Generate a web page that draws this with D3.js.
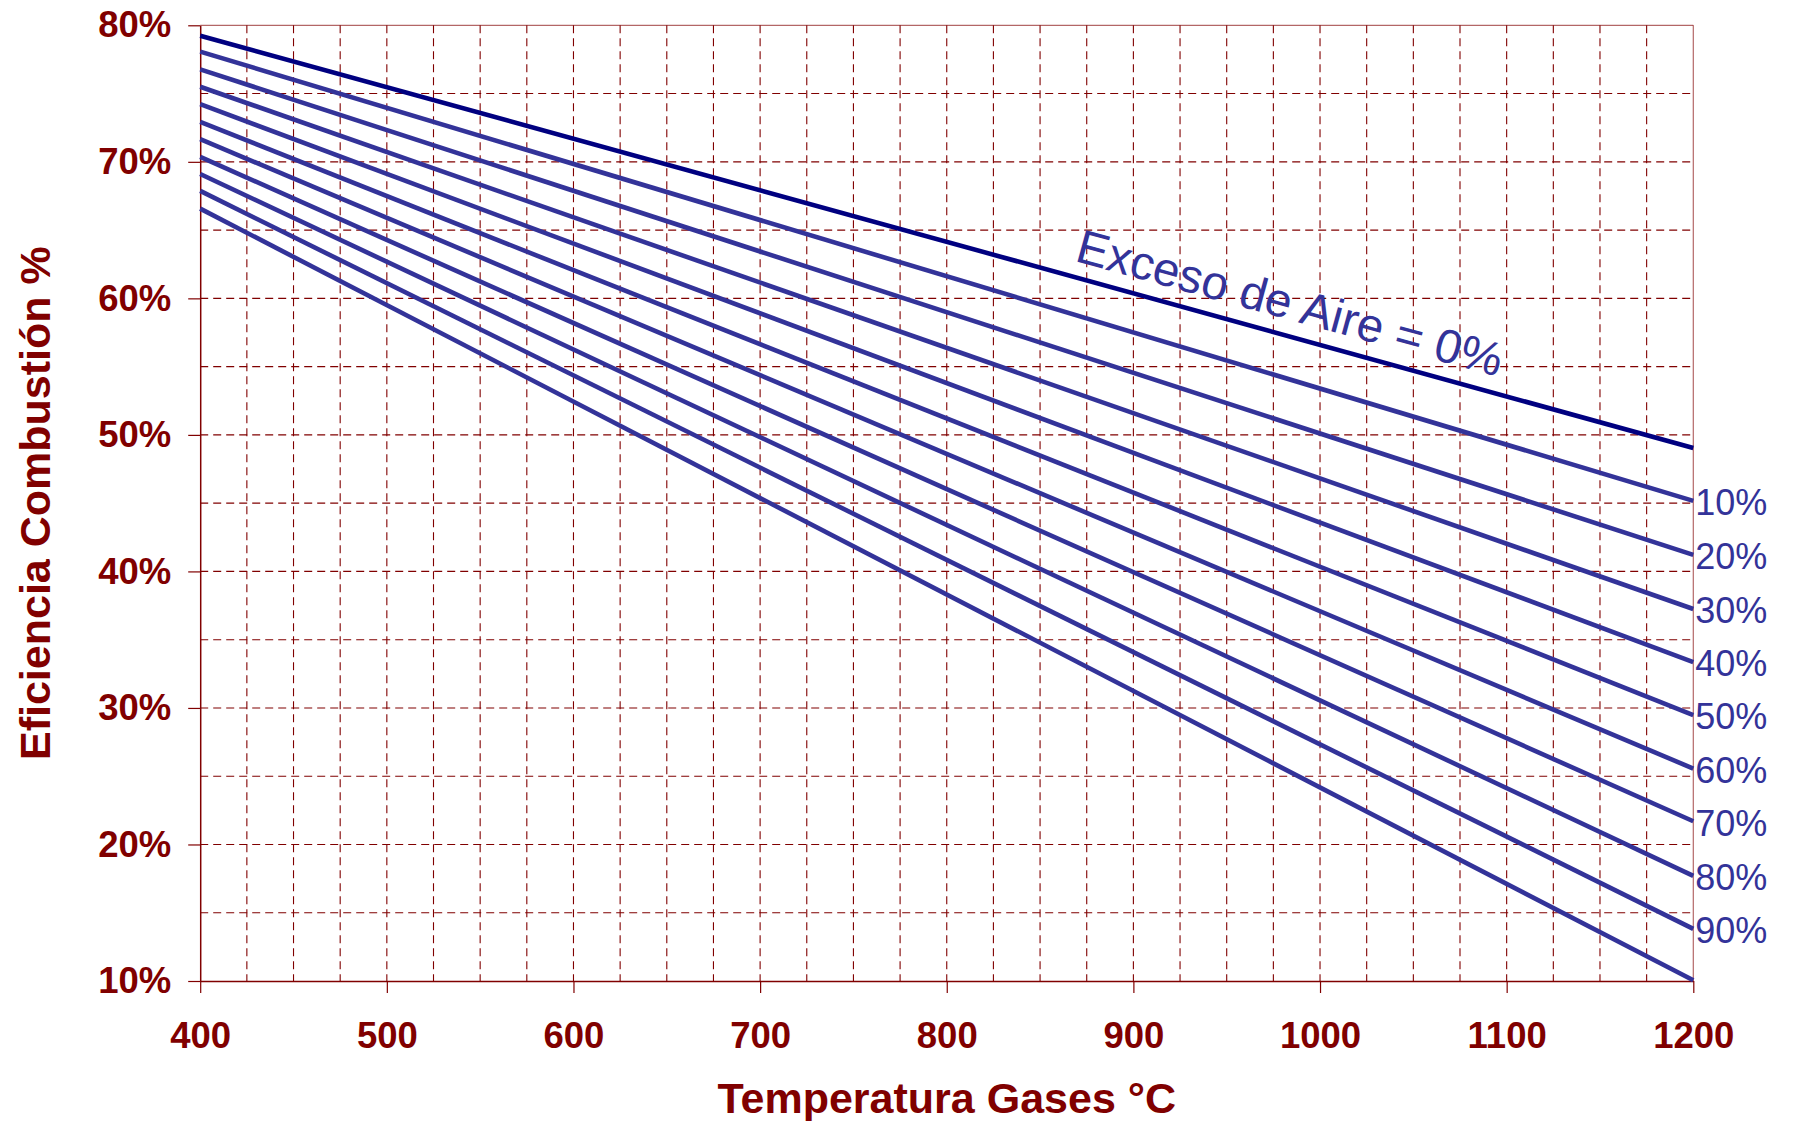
<!DOCTYPE html>
<html>
<head>
<meta charset="utf-8">
<script src="https://cdn.jsdelivr.net/npm/d3@7"></script>
<style>
  body { margin: 0; background: #ffffff; }
  svg text { font-family: "Liberation Sans", Arial, Helvetica, sans-serif; }
</style>
</head>
<body>
<svg id="chart" width="1794" height="1121"></svg>
<script>
// Flue-gas temperature (°C) at which each efficiency line is given
const temperatures = [400, 1200];
// Excess air (%) for each line
const excessAir = [0, 10, 20, 30, 40, 50, 60, 70, 80, 90, 100];
// Combustion efficiency (%) at 400 °C and at 1200 °C, one entry per excess-air line
const efficiencyAt400  = [79.24, 78.07, 76.77, 75.50, 74.23, 72.93, 71.66, 70.36, 69.11, 67.87, 66.57];
const efficiencyAt1200 = [49.04, 45.17, 41.21, 37.25, 33.36, 29.48, 25.56, 21.70, 17.70, 13.82, 10.05];
// Axis ticks
const xTicks = [400, 500, 600, 700, 800, 900, 1000, 1100, 1200];
const yTicks = [10, 20, 30, 40, 50, 60, 70, 80];
const xGrid = d3.range(425, 1200, 25);
const yGrid = d3.range(15, 80, 5);
// Labels at the right end of the lines
const endLabels = [10, 20, 30, 40, 50, 60, 70, 80, 90];
const zeroLabel = "Exceso de Aire = 0%";
const zeroLabelAt = { temp: 868, eff: 62.75 };

const svg = d3.select("#chart");
const W = 1794, H = 1121;
const plotLeft = 200.2, plotRight = 1693.3, plotTop = 25.3, plotBottom = 981;
const maroon = "#800000";

svg.append("rect").attr("width", W).attr("height", H).attr("fill", "#ffffff");

const x = d3.scaleLinear().domain([400, 1200]).range([plotLeft, plotRight]);
const y = d3.scaleLinear().domain([10, 80]).range([plotBottom, plotTop]);

// dashed grid
const grid = svg.append("g").attr("fill", "none").attr("stroke", maroon)
  .attr("stroke-width", 1.1).attr("stroke-dasharray", "8,5");
grid.selectAll("line.v").data(xGrid).join("line").attr("class", "v")
  .attr("x1", d => x(d)).attr("x2", d => x(d)).attr("y1", y(80)).attr("y2", y(10));
grid.selectAll("line.h").data(yGrid).join("line").attr("class", "h")
  .attr("x1", x(400)).attr("x2", x(1200)).attr("y1", d => y(d)).attr("y2", d => y(d));

// plot frame: top and right edges
svg.append("line").attr("x1", x(400)).attr("x2", x(1200)).attr("y1", y(80)).attr("y2", y(80))
  .attr("stroke", maroon).attr("stroke-opacity", 0.6).attr("stroke-width", 1.2);
svg.append("line").attr("x1", x(1200)).attr("x2", x(1200)).attr("y1", y(80)).attr("y2", y(10))
  .attr("stroke", maroon).attr("stroke-opacity", 0.6).attr("stroke-width", 1.2);

// axes
const xAxis = svg.append("g").attr("transform", `translate(0,${plotBottom})`)
  .call(d3.axisBottom(x).tickValues(xTicks).tickFormat(d3.format("d"))
    .tickSizeInner(12).tickSizeOuter(0).tickPadding(29));
const yAxis = svg.append("g").attr("transform", `translate(${plotLeft},0)`)
  .call(d3.axisLeft(y).tickValues(yTicks).tickFormat(d => d + "%")
    .tickSizeInner(12).tickSizeOuter(0).tickPadding(17));
[xAxis, yAxis].forEach(a => {
  a.select(".domain").attr("stroke", maroon).attr("stroke-width", 1.5);
  a.selectAll(".tick line").attr("stroke", maroon).attr("stroke-width", 1.2);
  a.selectAll(".tick text").attr("fill", maroon).attr("font-size", 36.5)
    .attr("font-weight", "bold").style("font-family", '"Liberation Sans", Arial, sans-serif');
});
xAxis.selectAll(".tick text").attr("dy", "0.72em");

// efficiency lines
const rows = excessAir.map((e, i) => ({
  excess: e,
  pts: [{ t: temperatures[0], v: efficiencyAt400[i] }, { t: temperatures[1], v: efficiencyAt1200[i] }]
}));
const line = d3.line().x(d => x(d.t)).y(d => y(d.v));
svg.append("g").attr("fill", "none").selectAll("path").data(rows).join("path")
  .attr("d", d => line(d.pts))
  .attr("stroke", d => d.excess === 0 ? "#000080" : "#333399")
  .attr("stroke-width", 4.6)
  .attr("stroke-linecap", "butt");

// right-hand labels
svg.append("g").selectAll("text").data(rows.filter(r => endLabels.includes(r.excess))).join("text")
  .attr("x", x(1200) + 2)
  .attr("y", d => y(d.pts[1].v))
  .attr("dy", "0.4em")
  .attr("fill", "#333399")
  .attr("font-size", 36)
  .text(d => d.excess + "%");

// label along the zero-excess line
svg.append("text")
  .attr("transform", `translate(${x(zeroLabelAt.temp)},${y(zeroLabelAt.eff)}) rotate(15.3)`)
  .attr("fill", "#333399")
  .attr("font-size", 47.5)
  .text(zeroLabel);

// axis titles
svg.append("text")
  .attr("x", (plotLeft + plotRight) / 2).attr("y", 1113)
  .attr("text-anchor", "middle").attr("fill", maroon)
  .attr("font-size", 43).attr("font-weight", "bold")
  .text("Temperatura Gases °C");
svg.append("text")
  .attr("transform", `translate(50,${(plotTop + plotBottom) / 2}) rotate(-90)`)
  .attr("text-anchor", "middle").attr("fill", maroon)
  .attr("font-size", 43).attr("font-weight", "bold")
  .text("Eficiencia Combustión %");
</script>
</body>
</html>
